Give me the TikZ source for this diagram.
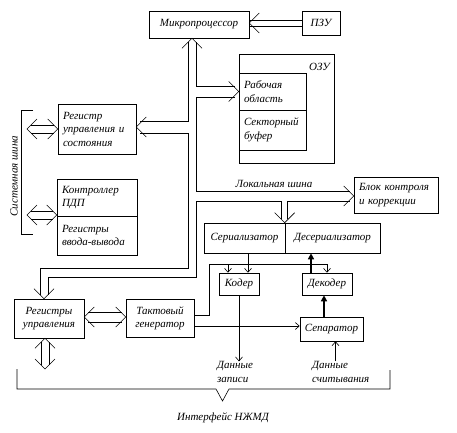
\documentclass[tikz,border=0pt]{standalone}
\usepackage{fontspec}
\setmainfont{Liberation Serif}
\usetikzlibrary{arrows.meta}

\begin{document}
\begin{tikzpicture}[x=1pt,y=-1pt,font=\itshape\fontsize{11}{13.5}\selectfont,
    ln/.style={line width=0.6pt},
    box/.style 2 args={draw,ln,align=center,inner sep=1pt,minimum width=#1pt,minimum height=#2pt},
    lbox/.style 2 args={draw,ln,align=left,inner xsep=5pt,inner ysep=1pt,text width=#1pt,minimum height=#2pt},
    txt/.style={inner sep=0pt},
    bus/.style={ln,shorten <=4pt,shorten >=4pt},
    sar/.style={ln,-{Straight Barb[length=4pt,width=7pt]}},
    thk/.style={line width=1.6pt,-{Triangle[length=6pt,width=6pt]}},
    chev/.pic={\draw[ln] (-10,-10) -- (0,0) -- (-10,10);}]
        \useasboundingbox (0,0) rectangle (457,432);

        \node[box={100}{27}] (mp) at (199,24.5) {Микропроцессор};
        \node[box={38}{24}] (pzu) at (321,23) {ПЗУ};
        \node[box={95}{109}] (ozu) at (286.5,108.5) {};
        \node[txt,anchor=east] (ozul) at (330,67) {ОЗУ};
        \node[lbox={57}{37}] (work) at (272.5,91.5) {Рабочая\\область};
        \node[lbox={57}{40}] (buf) at (272.5,130) {Секторный\\буфер};
        \node[lbox={68}{50}] (rus) at (97,129) {Регистр\\управления и\\состояния};
        \node[lbox={70}{37}] (pdp) at (97,197.5) {Контроллер\\ПДП};
        \node[lbox={70}{39}] (io) at (97,235.5) {Регистры\\ввода-вывода};
        \node[lbox={74}{36}] (ecc) at (396,195) {Блок контроля\\и коррекции};
        \node[box={81}{30}] (ser) at (244.5,238) {Сериализатор};
        \node[box={95}{30}] (des) at (332.5,238) {Десериализатор};
        \node[box={40}{22}] (cod) at (239,284) {Кодер};
        \node[box={50}{22}] (dec) at (327,284) {Декодер};
        \node[box={63}{24}] (sep) at (331.5,329) {Сепаратор};
        \node[box={70}{39}] (ru) at (49,318.5) {Регистры\\управления};
        \node[box={68}{38}] (tg) at (160,318) {Тактовый\\генератор};

        \node[txt,align=left,anchor=west] (wdat) at (217,372) {Данные\\записи};
        \node[txt,align=left,anchor=west] (rdat) at (312,372) {Данные\\считывания};
        \node[txt] (ifc) at (223,418) {Интерфейс НЖМД};
        \node[txt] (lbus) at (274,184) {Локальная шина};
        \node[txt,rotate=90] (sbus) at (14,176) {Системная шина};

        \coordinate (lb) at (196,191);
        \coordinate (lc) at (196,201);
        \coordinate (lo1) at (188,268);
        \coordinate (lo2) at (196,277);
        \coordinate (sb1) at (27,129);
        \coordinate (sb2) at (27,215);
        \coordinate (rb) at (45,369);
        \coordinate (clk) at (209,264);

        \draw[ln] ([yshift=3pt]pzu.west) -- ([yshift=3pt]pzu.west -| mp.east);
        \draw[ln] ([yshift=-3pt]pzu.west) -- ([yshift=-3pt]pzu.west -| mp.east);
        \pic[rotate=180] at (mp.east |- pzu.west) {chev};

        \draw[bus] ([xshift=-11pt]mp.south) |- ([yshift=8pt]rus.east);
        \draw[bus] ([yshift=-4pt]rus.east) -| (lo1) -| ([xshift=-9pt]ru.north);
        \draw[bus] ([xshift=-3pt]mp.south) |- ([yshift=5.5pt]work.west);
        \draw[bus] ([yshift=-5.5pt]work.west) -| (lb) -- ([yshift=4pt]ecc.west);
        \draw[bus] ([yshift=-6pt]ecc.west) -| ([xshift=3pt]des.north west);
        \draw[bus] ([xshift=-3pt]des.north west) |- (lc) -- (lo2) -| ([xshift=-1pt]ru.north);
        \pic[rotate=90] at ([xshift=-7pt]mp.south) {chev};
        \pic[rotate=180] at ([yshift=2pt]rus.east) {chev};
        \pic at (work.west) {chev};
        \pic at ([yshift=-1pt]ecc.west) {chev};
        \pic[rotate=-90] at (des.north west) {chev};
        \pic[rotate=-90] at ([xshift=-5pt]ru.north) {chev};

        \draw[bus] ([yshift=4pt]rus.west) -- ([yshift=4pt]sb1);
        \draw[bus] ([yshift=-4pt]rus.west) -- ([yshift=-4pt]sb1);
        \pic at (rus.west) {chev};
        \pic[rotate=180] at (sb1) {chev};
        \draw[bus] ([yshift=4pt]sb2 -| io.west) -- ([yshift=4pt]sb2);
        \draw[bus] ([yshift=-4pt]sb2 -| io.west) -- ([yshift=-4pt]sb2);
        \pic at (sb2 -| io.west) {chev};
        \pic[rotate=180] at (sb2) {chev};
        \draw[ln] (33,110) -- (21,110) -- (21,234) -- (33,234);

        \draw[bus] ([yshift=6.5pt]ru.east) -- ([yshift=6.5pt]ru.east -| tg.west);
        \draw[bus] ([yshift=-3.5pt]ru.east) -- ([yshift=-3.5pt]ru.east -| tg.west);
        \pic[rotate=180] at ([yshift=1.5pt]ru.east) {chev};
        \pic at ([yshift=1.5pt]ru.east -| tg.west) {chev};
        \draw[bus] ([xshift=-8pt]ru.south) -- ([xshift=-8pt]ru.south |- rb);
        \draw[bus] (ru.south) -- (ru.south |- rb);
        \pic[rotate=90] at ([xshift=-4pt]ru.south) {chev};
        \pic[rotate=-90] at (rb) {chev};

        \draw[sar] ([yshift=3pt]tg.east) -| (clk) -| (dec.north);
        \draw[sar] ([xshift=-11pt]cod.north |- clk) -- ([xshift=-11pt]cod.north);
        \draw[sar] ([xshift=9pt]cod.north |- ser.south) -- ([xshift=9pt]cod.north);
        \draw[sar] ([yshift=-8pt]tg.east) -- ([yshift=-8pt]tg.east -| sep.west);
        \draw[thk] ([xshift=-16pt]dec.north) -- ([xshift=-16pt]dec.north |- des.south);
        \draw[thk] ([xshift=-7.5pt]sep.north) -- ([xshift=-7.5pt]sep.north |- dec.south);
        \draw[sar] (cod.south) -- (cod.south |- wdat.north);
        \draw[sar] ([xshift=4pt]sep.south |- rdat.north) -- ([xshift=4pt]sep.south);

        \draw[ln] (17,369) |- (216,389) -- (222.5,401) -- (229,389) -| (390,370);
\end{tikzpicture}
\end{document}
